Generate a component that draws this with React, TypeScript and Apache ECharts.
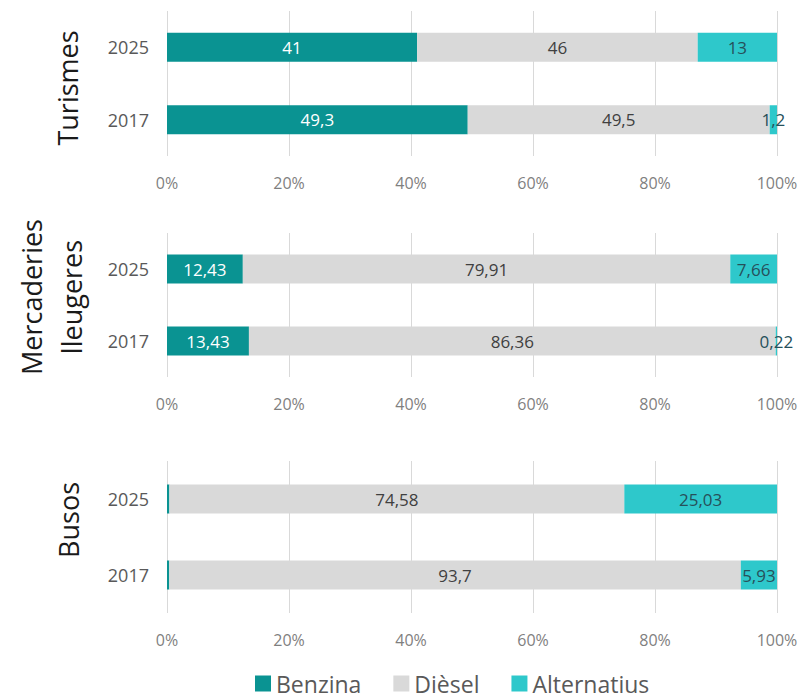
import React, { useEffect, useRef } from "react";
import * as echarts from "echarts";

const years = ["2017", "2025"];
const seriesNames = ["Benzina", "Dièsel", "Alternatius"];
const turismesBenzina = [49.3, 41];
const turismesDiesel = [49.5, 46];
const turismesAlt = [1.2, 13];
const mercBenzina = [13.43, 12.43];
const mercDiesel = [86.36, 79.91];
const mercAlt = [0.22, 7.66];
const busosBenzina = [0.37, 0.39];
const busosDiesel = [93.7, 74.58];
const busosAlt = [5.93, 25.03];
const tickValues = [0, 20, 40, 60, 80, 100];

const colors = ["#0A9392", "#D9D9D9", "#2EC8CB"];
const labelColors = ["#FFFFFF", "#404040", "#26505A"];
const FONT = "Open Sans";

export default function App() {
  const ref = useRef<HTMLDivElement>(null);
  useEffect(() => {
    document.body.style.margin = "0";
    const chart = echarts.init(ref.current!, null, { renderer: "svg" });
    const grids = [
      { left: 167, right: 30, top: 11, height: 145 },
      { left: 167, right: 30, top: 233, height: 144 },
      { left: 167, right: 30, top: 461, height: 152 },
    ];
    const panels = [
      [turismesBenzina, turismesDiesel, turismesAlt],
      [mercBenzina, mercDiesel, mercAlt],
      [busosBenzina, busosDiesel, busosAlt],
    ];
    const xAxis = grids.map((_, i) => ({
      type: "value",
      gridIndex: i,
      min: 0,
      max: tickValues[tickValues.length - 1],
      interval: 20,
      axisLine: { show: false },
      axisTick: { show: false },
      axisLabel: {
        formatter: "{value}%",
        color: "#7F7F7F",
        fontSize: 16,
        fontFamily: FONT,
        margin: 19,
      },
      splitLine: { show: true, lineStyle: { color: "#D9D9D9", width: 1 } },
    }));
    const yAxis = grids.map((_, i) => ({
      type: "category",
      gridIndex: i,
      data: years,
      axisLine: { show: false },
      axisTick: { show: false },
      axisLabel: { color: "#595959", fontSize: 18, fontFamily: FONT, margin: 18 },
    }));
    const series: any[] = [];
    panels.forEach((panel, gi) => {
      panel.forEach((vals, si) => {
        series.push({
          type: "bar",
          name: seriesNames[si],
          xAxisIndex: gi,
          yAxisIndex: gi,
          stack: "g" + gi,
          barWidth: 29,
          data: vals,
          itemStyle: { color: colors[si] },
          label: {
            show: true,
            position: "inside",
            color: labelColors[si],
            fontSize: 17,
            fontFamily: FONT,
            formatter: (p: any) =>
              si === 0 && p.value < 1 ? "" : String(p.value).replace(".", ","),
          },
        });
      });
    });
    const groupText = (text: string, x: number, y: number) => ({
      type: "text",
      x,
      y,
      rotation: Math.PI / 2,
      style: {
        text,
        fill: "#1A1A1A",
        fontSize: 27,
        fontFamily: FONT,
        align: "center",
        verticalAlign: "middle",
      },
    });
    chart.setOption({
      animation: false,
      textStyle: { fontFamily: FONT },
      grid: grids,
      xAxis,
      yAxis,
      series,
      legend: {
        data: seriesNames,
        left: 255,
        top: 672,
        padding: 0,
        icon: "rect",
        itemWidth: 16,
        itemHeight: 16,
        itemGap: 32,
        textStyle: { color: "#595959", fontSize: 23, lineHeight: 23, fontFamily: FONT },
      },
      graphic: [
        groupText("Turismes", 67, 88),
        groupText("Mercaderies", 31, 297),
        groupText("lleugeres", 71, 297),
        groupText("Busos", 68, 520),
      ],
    });
    return () => chart.dispose();
  }, []);
  return <div ref={ref} style={{ width: 807, height: 699 }} />;
}
